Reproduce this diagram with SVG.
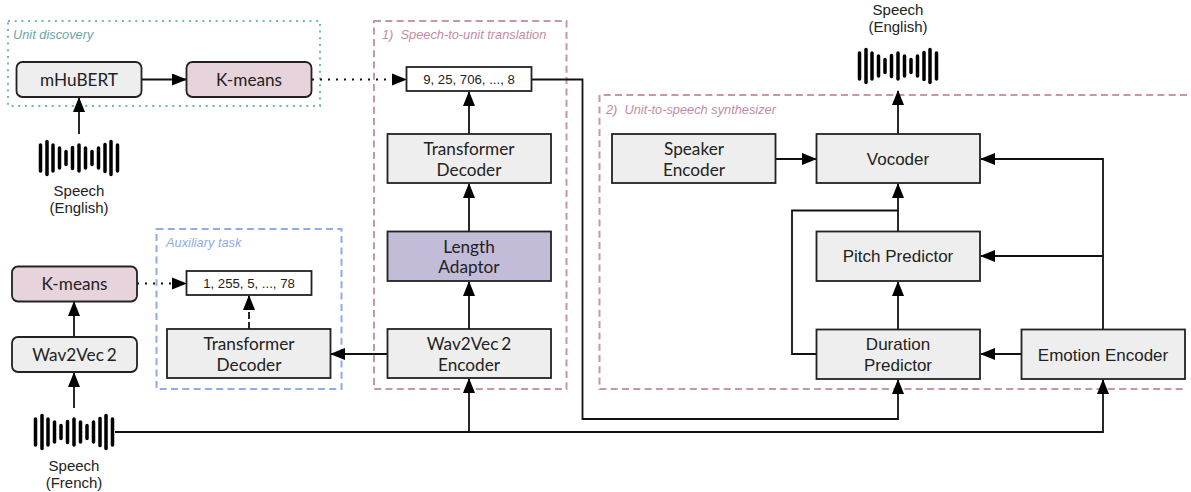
<svg xmlns="http://www.w3.org/2000/svg" width="1191" height="492" viewBox="0 0 1191 492">
<defs>
<marker id="ah" markerUnits="userSpaceOnUse" markerWidth="16" markerHeight="13" refX="14" refY="6" orient="auto"><path d="M0 0L15 6L0 12Z" fill="#000"/></marker>
<g id="wave" stroke="#000" stroke-width="3.500" stroke-linecap="round" fill="none">
<path d="M-38.500 -13V13M-32 -16.500V16.500M-26 -13V13M-19.500 -10V10M-13 -6.500V6.500M-6.500 -10.500V10.500M0 -13V13M6.500 -10V10M13 -6.500V6.500M19.500 -10V10M26 -13.500V13.500M32 -16.500V16.500M38.500 -13V13"/>
</g>
</defs>
<style>
.box{fill:#eee;stroke:#222;stroke-width:1.800}
.tok{fill:#fff;stroke:#222;stroke-width:1.800}
.km{fill:#e6d3dc;stroke:#222;stroke-width:1.800}
.la{fill:#c2bcd8;stroke:#222;stroke-width:1.800}
.t{font-family:"Lato","Liberation Sans",sans-serif;font-size:17.200px;fill:#222;text-anchor:middle}
.w{word-spacing:-1.500px}
.a{font-family:"Liberation Sans",sans-serif;font-size:17px;fill:#222;text-anchor:middle}
.s{font-family:"Liberation Sans",sans-serif;font-size:15px;fill:#222;text-anchor:middle}
.n{font-family:"Liberation Sans",sans-serif;font-size:13.200px;fill:#222;text-anchor:middle}
.g{font-family:"Liberation Sans",sans-serif;font-size:12.800px;font-style:italic}
.c{fill:none;stroke:#111;stroke-width:1.800}
.frame{fill:none;stroke-width:2}
</style>
<g id="frames">
<rect class="frame" x="8" y="21" width="312" height="85" stroke="#6fb5bd" stroke-dasharray="2 4.700"/>
<rect class="frame" x="156.500" y="229" width="185" height="160" stroke="#8fabea" stroke-dasharray="7 4.300"/>
<rect class="frame" x="374" y="21" width="192.500" height="368" stroke="#c796ae" stroke-dasharray="7 4.300"/>
<path class="frame" d="M1187 95H599.500V389H1187" stroke="#c796ae" stroke-dasharray="7 4.300"/>
<text class="g" x="13" y="39" fill="#68a6b0">Unit discovery</text>
<text class="g" x="166" y="247" fill="#8fabea">Auxiliary task</text>
<text class="g" x="382" y="39" fill="#c18ba7" xml:space="preserve">1)  Speech-to-unit translation</text>
<text class="g" x="606" y="114" fill="#c18ba7" xml:space="preserve">2)  Unit-to-speech synthesizer</text>
</g>
<g id="connectors">
<path class="c" marker-end="url(#ah)" d="M141.500 79.500H186"/>
<path class="c" marker-end="url(#ah)" d="M79 134V98"/>
<path class="c" stroke-dasharray="2 6" d="M312 79.500H392"/>
<path d="M392 73.500L407 79.500L392 85.500Z" fill="#000"/>
<path class="c" marker-end="url(#ah)" d="M74 408V373"/>
<path class="c" marker-end="url(#ah)" d="M74 337V302"/>
<path class="c" stroke-dasharray="2 6" d="M137 283.500H172"/>
<path d="M172 277.500L187 283.500L172 289.500Z" fill="#000"/>
<path class="c" stroke-dasharray="7 3" marker-end="url(#ah)" d="M249 329V296"/>
<path class="c" marker-end="url(#ah)" d="M388 354H331"/>
<path class="c" marker-end="url(#ah)" d="M469 329V282"/>
<path class="c" marker-end="url(#ah)" d="M469 231V184"/>
<path class="c" marker-end="url(#ah)" d="M469 134V92"/>
<path class="c" marker-end="url(#ah)" d="M531 79.500H582.500V419H898V380"/>
<path class="c" marker-end="url(#ah)" d="M115 432H1103V380"/>
<path class="c" marker-end="url(#ah)" d="M469 432V379"/>
<path class="c" marker-end="url(#ah)" d="M776 159H816"/>
<path class="c" marker-end="url(#ah)" d="M898 134V91"/>
<path class="c" marker-end="url(#ah)" d="M898 231V184"/>
<path class="c" marker-end="url(#ah)" d="M898 329V282"/>
<path class="c" d="M817 354H792V210.500H898"/>
<path class="c" marker-end="url(#ah)" d="M1103 329V159H981"/>
<path class="c" marker-end="url(#ah)" d="M1103 256H981"/>
<path class="c" marker-end="url(#ah)" d="M1021 354H981"/>
</g>
<g id="n-mhubert"><rect class="box" x="16.500" y="62" width="125" height="35" rx="6"/><text class="t" x="79" y="86">mHuBERT</text></g>
<g id="n-kmeans-en"><rect class="km" x="186.500" y="62" width="125" height="35" rx="6"/><text class="t" x="249" y="86">K-means</text></g>
<g id="n-speech-en-in"><use href="#wave" x="79" y="158"/><text class="s" x="79" y="196">Speech</text><text class="s" x="79" y="213">(English)</text></g>
<g id="n-kmeans-fr"><rect class="km" x="12" y="266.500" width="125" height="35" rx="6"/><text class="t" x="74.500" y="290">K-means</text></g>
<g id="n-wav2vec"><rect class="box" x="12" y="337" width="125" height="35" rx="6"/><text class="t w" x="74.500" y="361">Wav2Vec 2</text></g>
<g id="n-speech-fr"><use href="#wave" x="74" y="432"/><text class="s" x="74" y="471">Speech</text><text class="s" x="74" y="488">(French)</text></g>
<g id="n-tokens-aux"><rect class="tok" x="186.500" y="271" width="125" height="24"/><text class="n" x="249" y="288">1, 255, 5, ..., 78</text></g>
<g id="n-decoder-aux"><rect class="box" x="167" y="329" width="163.500" height="49"/><text class="t" x="249" y="350">Transformer</text><text class="t" x="249" y="371">Decoder</text></g>
<g id="n-tokens"><rect class="tok" x="406.500" y="67" width="125" height="24"/><text class="n" x="469" y="84">9, 25, 706, ..., 8</text></g>
<g id="n-decoder"><rect class="box" x="387.500" y="134" width="163.500" height="49"/><text class="t" x="469" y="155">Transformer</text><text class="t" x="469" y="175.500">Decoder</text></g>
<g id="n-length"><rect class="la" x="387.500" y="231.500" width="163.500" height="49.500"/><text class="t" x="469" y="252.500">Length</text><text class="t" x="469" y="273">Adaptor</text></g>
<g id="n-encoder"><rect class="box" x="387.500" y="329" width="163.500" height="49"/><text class="t w" x="469" y="350">Wav2Vec 2</text><text class="t" x="469" y="371">Encoder</text></g>
<g id="n-speaker"><rect class="box" x="612" y="134" width="163.500" height="49"/><text class="t" x="694" y="155">Speaker</text><text class="t" x="694" y="175.500">Encoder</text></g>
<g id="n-vocoder"><rect class="box" x="816.500" y="134" width="163.500" height="49"/><text class="a" x="898" y="165">Vocoder</text></g>
<g id="n-pitch"><rect class="box" x="816.500" y="231.500" width="163.500" height="49.500"/><text class="a" x="898" y="262">Pitch Predictor</text></g>
<g id="n-duration"><rect class="box" x="816.500" y="329.500" width="163.500" height="49.500"/><text class="a" x="898" y="350">Duration</text><text class="a" x="898" y="370.500">Predictor</text></g>
<g id="n-emotion"><rect class="box" x="1021.500" y="329.500" width="163.500" height="49.500"/><text class="a" x="1103" y="361">Emotion Encoder</text></g>
<g id="n-speech-en-out"><use href="#wave" x="898" y="66"/><text class="s" x="898" y="14.500">Speech</text><text class="s" x="898" y="32">(English)</text></g>
</svg>
